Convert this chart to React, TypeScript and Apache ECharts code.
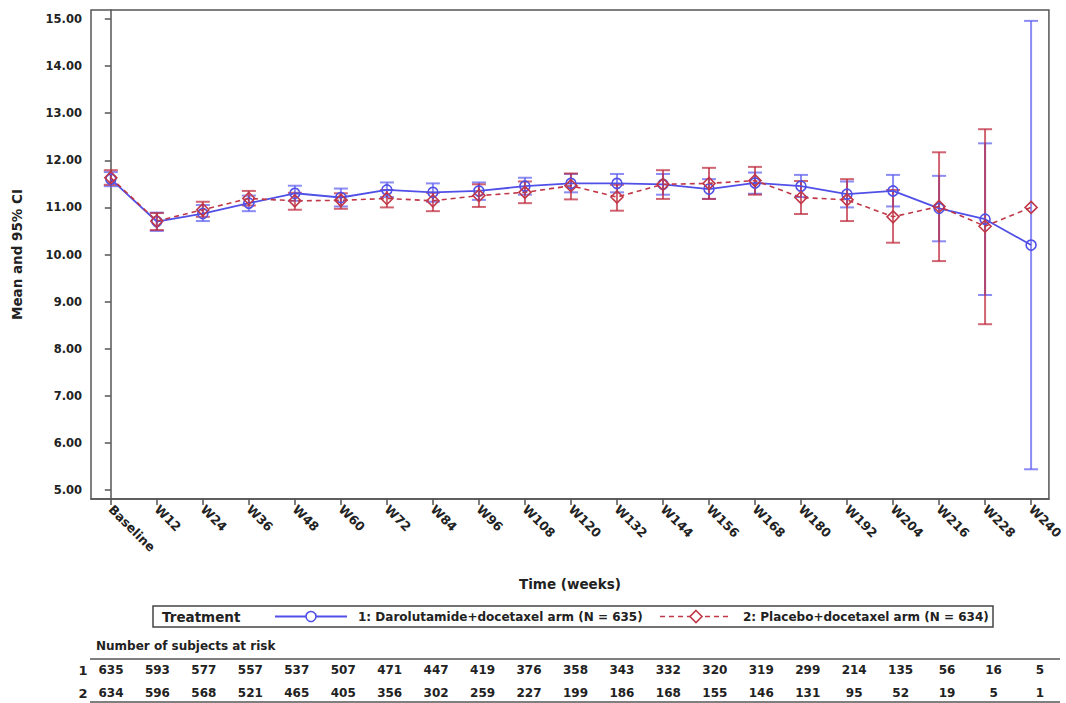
import React, { useEffect, useRef } from "react";
import * as echarts from "echarts";

// Visit labels along the time axis
const visits = [
  "Baseline", "W12", "W24", "W36", "W48", "W60", "W72", "W84", "W96", "W108",
  "W120", "W132", "W144", "W156", "W168", "W180", "W192", "W204", "W216", "W228", "W240",
];

// Arm 1: Darolutamide+docetaxel — mean and 95% CI
const daroMean = [11.60, 10.70, 10.87, 11.09, 11.30, 11.21, 11.37, 11.32, 11.35, 11.45, 11.51, 11.51, 11.49, 11.39, 11.52, 11.45, 11.28, 11.35, 10.98, 10.75, 10.20];
const daroLow = [11.45, 10.50, 10.71, 10.92, 11.14, 11.02, 11.22, 11.12, 11.16, 11.27, 11.32, 11.32, 11.27, 11.18, 11.29, 11.22, 11.00, 11.02, 10.28, 9.14, 5.44];
const daroHigh = [11.75, 10.89, 11.05, 11.25, 11.46, 11.40, 11.53, 11.51, 11.53, 11.63, 11.71, 11.71, 11.71, 11.60, 11.74, 11.69, 11.55, 11.69, 11.67, 12.36, 14.96];

// Arm 2: Placebo+docetaxel — mean and 95% CI (no interval at W240, single subject)
const placMean = [11.63, 10.71, 10.95, 11.19, 11.14, 11.15, 11.19, 11.14, 11.25, 11.32, 11.46, 11.22, 11.49, 11.51, 11.57, 11.21, 11.16, 10.80, 11.02, 10.60, 11.00];
const placLow: (number | null)[] = [11.48, 10.52, 10.80, 11.04, 10.95, 10.97, 11.00, 10.92, 11.01, 11.09, 11.17, 10.93, 11.18, 11.18, 11.27, 10.86, 10.71, 10.25, 9.86, 8.52, null];
const placHigh: (number | null)[] = [11.79, 10.88, 11.12, 11.35, 11.31, 11.30, 11.37, 11.31, 11.49, 11.55, 11.72, 11.48, 11.79, 11.84, 11.86, 11.56, 11.60, 11.37, 12.17, 12.66, null];

// Number of subjects at risk per visit
const atRisk1 = [635, 593, 577, 557, 537, 507, 471, 447, 419, 376, 358, 343, 332, 320, 319, 299, 214, 135, 56, 16, 5];
const atRisk2 = [634, 596, 568, 521, 465, 405, 356, 302, 259, 227, 199, 186, 168, 155, 146, 131, 95, 52, 19, 5, 1];

const yTicks = [5, 6, 7, 8, 9, 10, 11, 12, 13, 14, 15];

const armLabel1 = "1: Darolutamide+docetaxel arm (N = 635)";
const armLabel2 = "2: Placebo+docetaxel arm (N = 634)";

const FONT = "DejaVu Sans";
const INK = "#222";
const BLUE = "#5050e8";
const BLUE_BAR = "rgba(90,90,240,0.7)";
const RED = "#c03848";
const RED_BAR = "rgba(190,40,60,0.72)";

const X_MIN = -0.4306;
const X_MAX = 20.3875;

function errorBarSeries(low: (number | null)[], high: (number | null)[], color: string) {
  const data = visits.map((_, i) =>
    low[i] == null || high[i] == null ? [i, "-", "-"] : [i, low[i], high[i]]
  );
  return {
    type: "custom",
    xAxisIndex: 0,
    yAxisIndex: 0,
    data,
    encode: { x: 0, y: [1, 2] },
    silent: true,
    z: 2,
    renderItem: (_params: any, api: any) => {
      const lo = api.value(1);
      const hi = api.value(2);
      if (isNaN(lo) || isNaN(hi)) return null;
      const x = api.value(0);
      const pLo = api.coord([x, lo]);
      const pHi = api.coord([x, hi]);
      const w = 7;
      const style = { stroke: color, lineWidth: 2 };
      return {
        type: "group",
        children: [
          { type: "line", shape: { x1: pLo[0], y1: pLo[1], x2: pHi[0], y2: pHi[1] }, style },
          { type: "line", shape: { x1: pLo[0] - w, y1: pLo[1], x2: pLo[0] + w, y2: pLo[1] }, style },
          { type: "line", shape: { x1: pHi[0] - w, y1: pHi[1], x2: pHi[0] + w, y2: pHi[1] }, style },
        ],
      };
    },
  };
}

function riskAxis(gridIndex: number, counts: number[]) {
  return {
    type: "value",
    gridIndex,
    min: X_MIN,
    max: X_MAX,
    axisLine: { show: false },
    axisTick: { show: false },
    splitLine: { show: false },
    axisLabel: {
      customValues: visits.map((_, i) => i),
      formatter: (v: number) => String(counts[Math.round(v)]),
      margin: 3,
      color: INK,
      fontFamily: FONT,
      fontWeight: "bold",
      fontSize: 12,
    },
  };
}

export default function App() {
  const ref = useRef<HTMLDivElement>(null);

  useEffect(() => {
    if (!ref.current) return;
    const chart = echarts.init(ref.current, undefined, { renderer: "svg" });

    const textStyle = (size: number) => ({
      fill: INK,
      fontFamily: FONT,
      fontWeight: "bold",
      fontSize: size,
    });

    chart.setOption({
      animation: false,
      backgroundColor: "#fff",
      grid: [
        { left: 91, right: 8, top: 10, height: 489, show: true, borderColor: "#555", borderWidth: 1.5 },
        { left: 91, right: 8, top: 660, height: 1 },
        { left: 91, right: 8, top: 683, height: 1 },
      ],
      xAxis: [
        {
          type: "value",
          gridIndex: 0,
          min: X_MIN,
          max: X_MAX,
          name: "Time (weeks)",
          nameLocation: "middle",
          nameGap: 78,
          nameTextStyle: { color: INK, fontFamily: FONT, fontWeight: "bold", fontSize: 13.5 },
          axisLine: { show: true, lineStyle: { color: "#555", width: 1.5 } },
          axisTick: { show: true, length: 6, customValues: visits.map((_, i) => i), lineStyle: { color: "#555", width: 1.5 } },
          splitLine: { show: false },
          axisLabel: {
            customValues: visits.map((_, i) => i),
            formatter: (v: number) => visits[Math.round(v)],
            rotate: -45,
            margin: 8,
            color: INK,
            fontFamily: FONT,
            fontWeight: "bold",
            fontSize: 12.5,
          },
        },
        riskAxis(1, atRisk1),
        riskAxis(2, atRisk2),
      ],
      yAxis: [
        {
          type: "value",
          gridIndex: 0,
          min: 4.809,
          max: 15.191,
          name: "Mean and 95% CI",
          nameLocation: "middle",
          nameGap: 67,
          nameRotate: 90,
          nameTextStyle: { color: INK, fontFamily: FONT, fontWeight: "bold", fontSize: 13.5 },
          axisLine: { show: true, lineStyle: { color: "#555", width: 1.5 } },
          axisTick: { show: true, length: 6, customValues: yTicks, lineStyle: { color: "#555", width: 1.5 } },
          splitLine: { show: false },
          axisLabel: {
            customValues: yTicks,
            formatter: (v: number) => v.toFixed(2),
            margin: 9,
            color: INK,
            fontFamily: FONT,
            fontWeight: "bold",
            fontSize: 11.5,
          },
        },
        { type: "value", gridIndex: 1, show: false },
        { type: "value", gridIndex: 2, show: false },
      ],
      series: [
        errorBarSeries(daroLow, daroHigh, BLUE_BAR),
        errorBarSeries(placLow, placHigh, RED_BAR),
        {
          type: "line",
          name: armLabel1,
          xAxisIndex: 0,
          yAxisIndex: 0,
          data: daroMean.map((v, i) => [i, v]),
          symbol: "circle",
          symbolSize: 10,
          z: 3,
          lineStyle: { color: BLUE, width: 1.8 },
          itemStyle: { color: "rgba(0,0,0,0)", borderColor: BLUE, borderWidth: 1.6 },
        },
        {
          type: "line",
          name: armLabel2,
          xAxisIndex: 0,
          yAxisIndex: 0,
          data: placMean.map((v, i) => [i, v]),
          symbol: "diamond",
          symbolSize: 12,
          z: 4,
          lineStyle: { color: RED, width: 1.6, type: [5, 4] },
          itemStyle: { color: "rgba(0,0,0,0)", borderColor: RED, borderWidth: 1.6 },
        },
      ],
      graphic: [
        // Legend box
        { type: "rect", shape: { x: 153, y: 606, width: 840, height: 21 }, style: { fill: "#fff", stroke: "#444", lineWidth: 1.5 } },
        { type: "text", x: 162, y: 616.5, style: { ...textStyle(13.5), text: "Treatment", verticalAlign: "middle" } },
        { type: "line", shape: { x1: 275, y1: 616.5, x2: 347, y2: 616.5 }, style: { stroke: BLUE, lineWidth: 1.8 } },
        { type: "circle", shape: { cx: 311, cy: 616.5, r: 5 }, style: { fill: "#fff", stroke: BLUE, lineWidth: 1.6 } },
        { type: "text", x: 358, y: 616.5, style: { ...textStyle(12), text: armLabel1, verticalAlign: "middle" } },
        { type: "line", shape: { x1: 660, y1: 616.5, x2: 732, y2: 616.5 }, style: { stroke: RED, lineWidth: 1.6, lineDash: [5, 4] } },
        {
          type: "polygon",
          shape: { points: [[696, 610.5], [702, 616.5], [696, 622.5], [690, 616.5]] },
          style: { fill: "#fff", stroke: RED, lineWidth: 1.6 },
        },
        { type: "text", x: 743, y: 616.5, style: { ...textStyle(12), text: armLabel2, verticalAlign: "middle" } },
        // At-risk table frame and headings
        { type: "text", x: 96, y: 646, style: { ...textStyle(12), text: "Number of subjects at risk", verticalAlign: "middle" } },
        { type: "line", shape: { x1: 90, y1: 659, x2: 1060, y2: 659 }, style: { stroke: "#555", lineWidth: 1.5 } },
        { type: "line", shape: { x1: 90, y1: 702, x2: 1060, y2: 702 }, style: { stroke: "#555", lineWidth: 1.5 } },
        { type: "text", x: 83, y: 670, style: { ...textStyle(13), text: "1", align: "center", verticalAlign: "middle" } },
        { type: "text", x: 83, y: 693, style: { ...textStyle(13), text: "2", align: "center", verticalAlign: "middle" } },
      ],
    });

    return () => chart.dispose();
  }, []);

  return (
    <div
      ref={ref}
      style={{ position: "absolute", left: 0, top: 0, width: 1066, height: 703, background: "#fff" }}
    />
  );
}
